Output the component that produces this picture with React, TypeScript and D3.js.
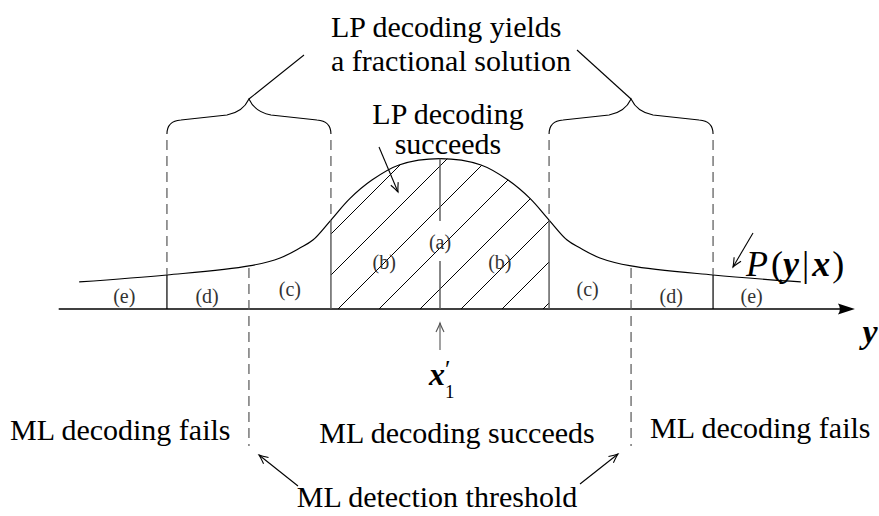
import React from "react";
import * as d3 from "d3";

// P(y|x): position on the y axis (units) and density
const curveU = [-4.4, -3.33, -2.33, -1.95, -1.71, -1.55, -1.33, -1.1, -0.83, -0.5, 0, 0.5, 0.83, 1.1, 1.33, 1.55, 1.71, 1.95, 2.33, 3.33, 4.4];
const curveP = [0.169, 0.2125, 0.269, 0.319, 0.381, 0.431, 0.556, 0.69, 0.806, 0.9, 0.94, 0.9, 0.806, 0.69, 0.556, 0.431, 0.381, 0.319, 0.269, 0.2125, 0.169];

// region edges (symmetric around x'_1 = 0)
const lpEdge = 1.33;
const mlThreshold = 2.33;
const outerEdge = 3.33;
const axisStart = -4.65;
const axisEnd = 5.06;

// region labels
const regionNames = ["(e)", "(d)", "(c)", "(b)", "(a)", "(b)", "(c)", "(d)", "(e)"];
const regionCenters = [-3.85, -2.84, -1.83, -0.68, 0, 0.73, 1.8, 2.82, 3.8];
const regionLevels = [0.038, 0.038, 0.081, 0.25, 0.375, 0.25, 0.081, 0.038, 0.038];

const W = 879;
const H = 516;
const FONT = "Liberation Serif, DejaVu Serif, serif";
const GRAY = "#555";

const x = d3.scaleLinear().domain([-5, 5]).range([30, 850]);
const y = d3.scaleLinear().domain([0, 1]).range([309, 149]);
const pAt = d3.scaleLinear().domain(curveU).range(curveP);

const pts: [number, number][] = curveU.map((u, i) => [u, curveP[i]]);

function bracePath(x1: number, x2: number) {
  const xm = (x1 + x2) / 2;
  const yEnd = 134, yTip = 99;
  return `M${x1},${yEnd} Q${x1},${yEnd - 13} ${x1 + 14},${yEnd - 14} L${xm - 22},${yEnd - 19}
    Q${xm - 6},${yEnd - 22} ${xm},${yTip} Q${xm + 6},${yEnd - 22} ${xm + 22},${yEnd - 19}
    L${x2 - 14},${yEnd - 14} Q${x2},${yEnd - 13} ${x2},${yEnd}`;
}

function Arrow({ x1, y1, x2, y2, color = "#000" }: any) {
  return <line x1={x1} y1={y1} x2={x2} y2={y2} stroke={color} strokeWidth={1.1} markerEnd={color === "#000" ? "url(#open)" : "url(#openGray)"} />;
}

function T({ children, size = 30, ...rest }: any) {
  return <text fontSize={size} style={{ fontFamily: FONT }} {...rest}>{children}</text>;
}

export default function App() {
  const line = d3.line<[number, number]>().x(d => x(d[0])).y(d => y(d[1])).curve(d3.curveCatmullRom.alpha(0.5));
  const area = d3.area<[number, number]>().x(d => x(d[0])).y0(y(0)).y1(d => y(d[1])).curve(d3.curveCatmullRom.alpha(0.5));

  // hatch: 45 degree lines every 41px along the baseline
  const hatch = d3.range(-4, 8).map(k => 338 + 41 * k);

  const topOf = (u: number) => y(pAt(u));

  return (
    <svg width={W} height={H} style={{ position: "absolute", left: 0, top: 0, background: "#fff" }}>
      <defs>
        <marker id="open" viewBox="-10 -6 12 12" refX={0} refY={0} markerWidth={12} markerHeight={12} markerUnits="userSpaceOnUse" orient="auto">
          <path d="M-9,-4 Q-3,-1 0,0 Q-3,1 -9,4" fill="none" stroke="#000" strokeWidth={1.1} />
        </marker>
        <marker id="openGray" viewBox="-10 -6 12 12" refX={0} refY={0} markerWidth={12} markerHeight={12} markerUnits="userSpaceOnUse" orient="auto">
          <path d="M-9,-4 Q-3,-1 0,0 Q-3,1 -9,4" fill="none" stroke={GRAY} strokeWidth={1.1} />
        </marker>
        <clipPath id="under">
          <path d={area(pts) || ""} />
        </clipPath>
        <clipPath id="mid">
          <rect x={x(-lpEdge)} y={0} width={x(lpEdge) - x(-lpEdge)} height={H} />
        </clipPath>
      </defs>

      {/* hatching of the LP success region */}
      <g clipPath="url(#mid)">
        <g clipPath="url(#under)">
          {hatch.map(b => (
            <line key={b} x1={b} y1={y(0)} x2={b + 220} y2={y(0) - 220} stroke="#000" strokeWidth={1} />
          ))}
        </g>
      </g>

      {/* axis */}
      <line x1={x(axisStart)} y1={y(0)} x2={x(axisEnd) - 14} y2={y(0)} stroke="#000" strokeWidth={1.5} />
      <path d={`M${x(axisEnd)},${y(0)} L${x(axisEnd) - 17},${y(0) - 5.5} Q${x(axisEnd) - 13},${y(0)} ${x(axisEnd) - 17},${y(0) + 5.5} Z`} fill="#000" />

      {/* density curve */}
      <path d={line(pts) || ""} fill="none" stroke="#000" strokeWidth={1.2} />

      {/* outer solid edges with dashed extension up to the braces */}
      {[-outerEdge, outerEdge].map(u => (
        <g key={u}>
          <line x1={x(u)} x2={x(u)} y1={y(0)} y2={topOf(u)} stroke="#000" strokeWidth={1.2} />
          <line x1={x(u)} x2={x(u)} y1={140} y2={topOf(u)} stroke={GRAY} strokeWidth={1.2} strokeDasharray="10,6" />
        </g>
      ))}
      {[-lpEdge, lpEdge].map(u => (
        <g key={u}>
          <line x1={x(u)} x2={x(u)} y1={y(0)} y2={topOf(u)} stroke={GRAY} strokeWidth={1.4} />
          <line x1={x(u)} x2={x(u)} y1={140} y2={topOf(u)} stroke={GRAY} strokeWidth={1.2} strokeDasharray="10,6" />
        </g>
      ))}
      {/* ML thresholds */}
      {[-mlThreshold, mlThreshold].map(u => (
        <line key={u} x1={x(u)} x2={x(u)} y1={topOf(u) + 2} y2={446} stroke={GRAY} strokeWidth={1.2} strokeDasharray="10,6" />
      ))}
      {/* centre line, broken by the (a) label */}
      <line x1={x(0)} x2={x(0)} y1={topOf(0)} y2={221} stroke={GRAY} strokeWidth={1.4} />
      <line x1={x(0)} x2={x(0)} y1={261} y2={y(0)} stroke={GRAY} strokeWidth={1.4} />

      {/* region labels */}
      {regionNames.map((t, i) => (
        <T key={i} x={x(regionCenters[i])} y={y(regionLevels[i])} size={20} textAnchor="middle" fill="#333">{t}</T>
      ))}

      {/* braces and the fractional label */}
      <path d={bracePath(x(-outerEdge), x(-lpEdge))} fill="none" stroke="#000" strokeWidth={1.1} />
      <path d={bracePath(x(lpEdge), x(outerEdge))} fill="none" stroke="#000" strokeWidth={1.1} />
      <line x1={x(-mlThreshold)} y1={99} x2={304} y2={55} stroke="#000" strokeWidth={1.1} />
      <line x1={x(mlThreshold)} y1={99} x2={577} y2={50} stroke="#000" strokeWidth={1.1} />
      <T x={331} y={37}>LP decoding yields</T>
      <T x={331} y={71}>a fractional solution</T>

      <T x={448} y={124} textAnchor="middle">LP decoding</T>
      <T x={448} y={154} textAnchor="middle">succeeds</T>
      <Arrow x1={379} y1={147} x2={398} y2={192} />

      {/* x'_1 */}
      <Arrow x1={x(0)} y1={350} x2={x(0)} y2={323} color={GRAY} />
      <T x={x(0) - 11} y={385} size={32} fontWeight="bold" fontStyle="italic">x</T>
      <T x={x(0) + 5} y={378} size={25}>′</T>
      <T x={x(0) + 5} y={398} size={19}>1</T>

      {/* axis label */}
      <T x={870} y={343} size={34} fontWeight="bold" fontStyle="italic" textAnchor="middle">y</T>

      {/* P(y|x) */}
      <Arrow x1={753} y1={233} x2={733} y2={267} />
      <T x={746} y={276} size={36}>
        <tspan fontStyle="italic">P</tspan>
        <tspan dx={3}>(</tspan>
        <tspan fontWeight="bold" fontStyle="italic">y</tspan>
        <tspan dx={3}>|</tspan>
        <tspan dx={3} fontWeight="bold" fontStyle="italic">x</tspan>
        <tspan dx={2}>)</tspan>
      </T>

      {/* ML texts */}
      <T x={10} y={440}>ML decoding fails</T>
      <T x={457} y={443} textAnchor="middle">ML decoding succeeds</T>
      <T x={650} y={438}>ML decoding fails</T>
      <T x={437} y={507} textAnchor="middle">ML detection threshold</T>
      <Arrow x1={298} y1={486} x2={259} y2={455} />
      <Arrow x1={580} y1={484} x2={618} y2={454} />
    </svg>
  );
}
